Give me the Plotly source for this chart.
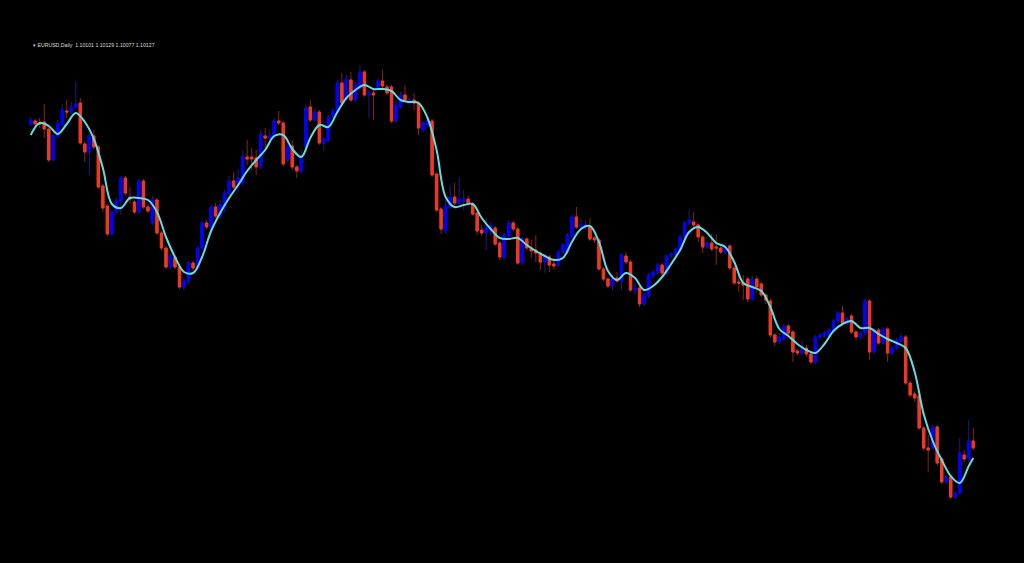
import plotly.graph_objects as go

# ---- data (EURUSD daily) ----
open_ = [
    1.1333, 1.1336, 1.1334, 1.1335, 1.1328, 1.1297, 1.1321, 1.1332, 1.1346, 1.1345,
    1.1350, 1.1354, 1.1313, 1.1305, 1.1321, 1.1310, 1.1271, 1.1251, 1.1223, 1.1245,
    1.1256, 1.1279, 1.1260, 1.1255, 1.1245, 1.1276, 1.1250, 1.1234, 1.1257, 1.1224,
    1.1209, 1.1190, 1.1200, 1.1190, 1.1170, 1.1176, 1.1194, 1.1189, 1.1209, 1.1234,
    1.1230, 1.1250, 1.1241, 1.1249, 1.1264, 1.1276, 1.1272, 1.1274, 1.1300, 1.1300,
    1.1299, 1.1290, 1.1321, 1.1319, 1.1321, 1.1336, 1.1334, 1.1297, 1.1311, 1.1290,
    1.1286, 1.1311, 1.1350, 1.1337, 1.1345, 1.1314, 1.1317, 1.1341, 1.1345, 1.1374,
    1.1358, 1.1377, 1.1357, 1.1369, 1.1385, 1.1362, 1.1364, 1.1370, 1.1376, 1.1370,
    1.1370, 1.1336, 1.1350, 1.1362, 1.1354, 1.1357, 1.1354, 1.1327, 1.1332, 1.1336,
    1.1283, 1.1248, 1.1226, 1.1250, 1.1260, 1.1254, 1.1256, 1.1258, 1.1253, 1.1244,
    1.1227, 1.1224, 1.1228, 1.1229, 1.1214, 1.1200, 1.1221, 1.1234, 1.1228, 1.1194,
    1.1218, 1.1209, 1.1207, 1.1204, 1.1195, 1.1200, 1.1193, 1.1192, 1.1205, 1.1205,
    1.1221, 1.1240, 1.1230, 1.1230, 1.1230, 1.1219, 1.1217, 1.1188, 1.1178, 1.1171,
    1.1179, 1.1176, 1.1201, 1.1195, 1.1167, 1.1169, 1.1153, 1.1161, 1.1181, 1.1185,
    1.1192, 1.1184, 1.1201, 1.1203, 1.1207, 1.1220, 1.1234, 1.1235, 1.1232, 1.1220,
    1.1210, 1.1214, 1.1210, 1.1209, 1.1205, 1.1211, 1.1189, 1.1175, 1.1174, 1.1178,
    1.1158, 1.1178, 1.1173, 1.1162, 1.1156, 1.1122, 1.1115, 1.1118, 1.1131, 1.1125,
    1.1106, 1.1104, 1.1109, 1.1103, 1.1095, 1.1120, 1.1121, 1.1122, 1.1127, 1.1136,
    1.1144, 1.1134, 1.1141, 1.1125, 1.1120, 1.1124, 1.1156, 1.1105, 1.1127, 1.1114,
    1.1128, 1.1104, 1.1109, 1.1116, 1.1120, 1.1074, 1.1063, 1.1061, 1.1029, 1.1009,
    1.1009, 1.1030, 1.0998, 1.0975, 1.0980, 1.0960, 1.0964, 1.1002, 1.0998, 1.1016,
]
high = [
    1.1340, 1.1338, 1.1339, 1.1353, 1.1330, 1.1323, 1.1337, 1.1353, 1.1357, 1.1355,
    1.1375, 1.1359, 1.1316, 1.1323, 1.1327, 1.1312, 1.1273, 1.1253, 1.1247, 1.1259,
    1.1281, 1.1281, 1.1270, 1.1257, 1.1278, 1.1278, 1.1253, 1.1261, 1.1259, 1.1226,
    1.1211, 1.1203, 1.1202, 1.1192, 1.1178, 1.1196, 1.1196, 1.1211, 1.1236, 1.1237,
    1.1252, 1.1254, 1.1257, 1.1267, 1.1281, 1.1285, 1.1287, 1.1307, 1.1317, 1.1309,
    1.1307, 1.1327, 1.1329, 1.1327, 1.1339, 1.1346, 1.1336, 1.1317, 1.1317, 1.1292,
    1.1307, 1.1352, 1.1357, 1.1349, 1.1347, 1.1320, 1.1342, 1.1349, 1.1377, 1.1384,
    1.1382, 1.1385, 1.1375, 1.1392, 1.1387, 1.1367, 1.1367, 1.1379, 1.1387, 1.1372,
    1.1372, 1.1357, 1.1365, 1.1372, 1.1359, 1.1364, 1.1356, 1.1336, 1.1338, 1.1338,
    1.1285, 1.1250, 1.1257, 1.1272, 1.1274, 1.1280, 1.1267, 1.1261, 1.1255, 1.1246,
    1.1232, 1.1239, 1.1235, 1.1231, 1.1216, 1.1224, 1.1236, 1.1236, 1.1230, 1.1220,
    1.1220, 1.1217, 1.1222, 1.1206, 1.1203, 1.1202, 1.1199, 1.1207, 1.1214, 1.1224,
    1.1242, 1.1250, 1.1239, 1.1237, 1.1239, 1.1221, 1.1219, 1.1190, 1.1180, 1.1181,
    1.1185, 1.1204, 1.1205, 1.1197, 1.1175, 1.1171, 1.1167, 1.1184, 1.1187, 1.1194,
    1.1194, 1.1203, 1.1205, 1.1210, 1.1222, 1.1236, 1.1247, 1.1245, 1.1234, 1.1222,
    1.1216, 1.1223, 1.1222, 1.1211, 1.1212, 1.1213, 1.1191, 1.1185, 1.1182, 1.1180,
    1.1181, 1.1181, 1.1175, 1.1164, 1.1158, 1.1124, 1.1124, 1.1133, 1.1133, 1.1127,
    1.1108, 1.1117, 1.1112, 1.1105, 1.1122, 1.1124, 1.1126, 1.1129, 1.1138, 1.1146,
    1.1151, 1.1140, 1.1143, 1.1127, 1.1126, 1.1158, 1.1158, 1.1129, 1.1129, 1.1130,
    1.1130, 1.1111, 1.1119, 1.1124, 1.1122, 1.1076, 1.1066, 1.1063, 1.1031, 1.1022,
    1.1032, 1.1032, 1.1000, 1.0982, 1.0982, 1.0966, 1.1019, 1.1007, 1.1037, 1.1029,
]
low = [
    1.1331, 1.1331, 1.1329, 1.1319, 1.1295, 1.1296, 1.1319, 1.1331, 1.1339, 1.1343,
    1.1349, 1.1312, 1.1295, 1.1282, 1.1308, 1.1268, 1.1245, 1.1221, 1.1221, 1.1243,
    1.1242, 1.1262, 1.1254, 1.1243, 1.1243, 1.1248, 1.1244, 1.1232, 1.1222, 1.1207,
    1.1188, 1.1188, 1.1188, 1.1168, 1.1167, 1.1173, 1.1186, 1.1187, 1.1207, 1.1228,
    1.1228, 1.1239, 1.1239, 1.1245, 1.1262, 1.1268, 1.1265, 1.1271, 1.1292, 1.1287,
    1.1282, 1.1288, 1.1307, 1.1312, 1.1317, 1.1332, 1.1291, 1.1294, 1.1287, 1.1279,
    1.1284, 1.1307, 1.1335, 1.1335, 1.1312, 1.1306, 1.1315, 1.1339, 1.1343, 1.1352,
    1.1356, 1.1355, 1.1355, 1.1367, 1.1360, 1.1339, 1.1337, 1.1368, 1.1369, 1.1362,
    1.1334, 1.1334, 1.1348, 1.1355, 1.1352, 1.1347, 1.1322, 1.1325, 1.1330, 1.1280,
    1.1245, 1.1223, 1.1224, 1.1248, 1.1252, 1.1252, 1.1247, 1.1251, 1.1241, 1.1222,
    1.1221, 1.1207, 1.1221, 1.1211, 1.1197, 1.1198, 1.1219, 1.1226, 1.1192, 1.1192,
    1.1207, 1.1199, 1.1195, 1.1187, 1.1184, 1.1185, 1.1187, 1.1190, 1.1203, 1.1203,
    1.1219, 1.1228, 1.1226, 1.1227, 1.1216, 1.1214, 1.1186, 1.1176, 1.1169, 1.1167,
    1.1174, 1.1167, 1.1193, 1.1165, 1.1162, 1.1150, 1.1151, 1.1159, 1.1178, 1.1183,
    1.1181, 1.1182, 1.1199, 1.1201, 1.1205, 1.1218, 1.1232, 1.1230, 1.1215, 1.1204,
    1.1208, 1.1206, 1.1192, 1.1203, 1.1203, 1.1187, 1.1172, 1.1165, 1.1157, 1.1155,
    1.1156, 1.1165, 1.1160, 1.1153, 1.1119, 1.1111, 1.1113, 1.1116, 1.1122, 1.1095,
    1.1102, 1.1102, 1.1100, 1.1093, 1.1093, 1.1118, 1.1119, 1.1120, 1.1125, 1.1134,
    1.1132, 1.1132, 1.1123, 1.1117, 1.1118, 1.1122, 1.1097, 1.1103, 1.1112, 1.1112,
    1.1095, 1.1102, 1.1107, 1.1114, 1.1072, 1.1060, 1.1055, 1.1027, 1.1006, 1.0985,
    1.1007, 1.0991, 1.0973, 1.0973, 1.0958, 1.0958, 1.0962, 1.0995, 1.0996, 1.1007,
]
close = [
    1.1337, 1.1333, 1.1333, 1.1328, 1.1297, 1.1321, 1.1333, 1.1347, 1.1345, 1.1350,
    1.1353, 1.1314, 1.1305, 1.1321, 1.1310, 1.1270, 1.1249, 1.1223, 1.1245, 1.1256,
    1.1279, 1.1264, 1.1258, 1.1245, 1.1276, 1.1250, 1.1246, 1.1257, 1.1224, 1.1209,
    1.1190, 1.1201, 1.1190, 1.1170, 1.1176, 1.1194, 1.1189, 1.1209, 1.1234, 1.1230,
    1.1250, 1.1241, 1.1252, 1.1264, 1.1276, 1.1270, 1.1279, 1.1300, 1.1298, 1.1298,
    1.1290, 1.1323, 1.1319, 1.1321, 1.1336, 1.1334, 1.1293, 1.1311, 1.1290, 1.1286,
    1.1301, 1.1349, 1.1337, 1.1345, 1.1314, 1.1318, 1.1340, 1.1346, 1.1374, 1.1354,
    1.1378, 1.1357, 1.1372, 1.1385, 1.1362, 1.1364, 1.1362, 1.1376, 1.1371, 1.1364,
    1.1336, 1.1352, 1.1362, 1.1357, 1.1357, 1.1354, 1.1329, 1.1334, 1.1336, 1.1282,
    1.1247, 1.1228, 1.1251, 1.1260, 1.1254, 1.1258, 1.1258, 1.1254, 1.1243, 1.1226,
    1.1224, 1.1230, 1.1231, 1.1213, 1.1200, 1.1222, 1.1234, 1.1228, 1.1194, 1.1218,
    1.1209, 1.1206, 1.1204, 1.1195, 1.1201, 1.1192, 1.1191, 1.1205, 1.1212, 1.1222,
    1.1240, 1.1230, 1.1232, 1.1232, 1.1218, 1.1217, 1.1188, 1.1178, 1.1171, 1.1179,
    1.1176, 1.1202, 1.1195, 1.1167, 1.1169, 1.1153, 1.1162, 1.1182, 1.1185, 1.1192,
    1.1184, 1.1201, 1.1203, 1.1208, 1.1220, 1.1234, 1.1237, 1.1232, 1.1220, 1.1210,
    1.1214, 1.1208, 1.1209, 1.1205, 1.1210, 1.1189, 1.1174, 1.1174, 1.1172, 1.1158,
    1.1178, 1.1170, 1.1162, 1.1157, 1.1122, 1.1115, 1.1120, 1.1130, 1.1124, 1.1105,
    1.1104, 1.1107, 1.1103, 1.1095, 1.1120, 1.1122, 1.1124, 1.1127, 1.1136, 1.1144,
    1.1134, 1.1138, 1.1125, 1.1120, 1.1124, 1.1156, 1.1105, 1.1127, 1.1114, 1.1128,
    1.1104, 1.1109, 1.1117, 1.1120, 1.1074, 1.1062, 1.1059, 1.1029, 1.1009, 1.1007,
    1.1030, 1.0994, 1.0975, 1.0980, 1.0960, 1.0964, 1.1004, 1.0998, 1.1016, 1.1009,
]
bar_index = list(range(len(close)))

# smoothed indicator line (sampled every 2 bars)
line_index = list(range(0, 209, 2)) + [209]
line_values = [
    1.1322, 1.1334, 1.1331, 1.1323, 1.1333, 1.1344, 1.1335, 1.1318, 1.1289, 1.1253,
    1.1249, 1.1259, 1.1259, 1.1257, 1.1245, 1.1220, 1.1200, 1.1185, 1.1184, 1.1200,
    1.1226, 1.1244, 1.1259, 1.1272, 1.1286, 1.1297, 1.1307, 1.1321, 1.1322, 1.1308,
    1.1300, 1.1319, 1.1332, 1.1330, 1.1345, 1.1359, 1.1367, 1.1372, 1.1368, 1.1368,
    1.1366, 1.1357, 1.1355, 1.1354, 1.1339, 1.1307, 1.1260, 1.1250, 1.1252, 1.1253,
    1.1239, 1.1228, 1.1219, 1.1218, 1.1219, 1.1212, 1.1206, 1.1201, 1.1197, 1.1199,
    1.1215, 1.1228, 1.1231, 1.1215, 1.1186, 1.1177, 1.1184, 1.1179, 1.1167, 1.1171,
    1.1180, 1.1193, 1.1207, 1.1225, 1.1230, 1.1224, 1.1214, 1.1210, 1.1195, 1.1174,
    1.1170, 1.1166, 1.1150, 1.1128, 1.1121, 1.1113, 1.1107, 1.1104, 1.1113, 1.1126,
    1.1133, 1.1136, 1.1129, 1.1129, 1.1123, 1.1118, 1.1114, 1.1109, 1.1085, 1.1043,
    1.1016, 1.0997, 1.0981, 1.0974, 1.0991, 1.0999,
]

header_text = "EURUSD,Daily\u00a0\u00a01.10101 1.10129 1.10077 1.10127"

# ---- styles ----
BULL = "#0000ff"
BEAR = "#ee3a22"
BULL_WICK = "#1c1c8a"
BEAR_WICK = "#8a2416"
LINE_COLOR = "#66dbe2"

body_top = [max(o, c) for o, c in zip(open_, close)]
body_bot = [min(o, c) for o, c in zip(open_, close)]

fig = go.Figure()

# wicks (dim colours), full high-low range
fig.add_trace(go.Candlestick(
    x=bar_index, open=open_, high=high, low=low, close=close,
    increasing=dict(line=dict(color=BULL_WICK, width=1), fillcolor=BULL_WICK),
    decreasing=dict(line=dict(color=BEAR_WICK, width=1), fillcolor=BEAR_WICK),
    whiskerwidth=0, showlegend=False, hoverinfo="skip",
))
# bright bodies
fig.add_trace(go.Candlestick(
    x=bar_index, open=open_, high=body_top, low=body_bot, close=close,
    increasing=dict(line=dict(color=BULL, width=1), fillcolor=BULL),
    decreasing=dict(line=dict(color=BEAR, width=1), fillcolor=BEAR),
    whiskerwidth=0, showlegend=False, hoverinfo="skip",
))
# smoothed line
fig.add_trace(go.Scatter(
    x=line_index, y=line_values, mode="lines",
    line=dict(color=LINE_COLOR, width=2, shape="spline", smoothing=1.0),
    showlegend=False, hoverinfo="skip",
))

fig.add_annotation(
    xref="paper", yref="paper", x=31 / 1024, y=1 - 45.5 / 563,
    xanchor="left", yanchor="middle", showarrow=False,
    text="\u25BE\u00a0" + header_text,
    font=dict(family="Liberation Sans, Arial", size=5.2, color="#dcdcdc"),
)

fig.update_layout(
    width=1024, height=563,
    margin=dict(l=0, r=0, t=0, b=0),
    paper_bgcolor="#000000", plot_bgcolor="#000000",
    boxgap=0.25,
    xaxis=dict(range=[-30.7 / 4.51, (1024 - 30.7) / 4.51], visible=False,
               showgrid=False, zeroline=False, rangeslider=dict(visible=False)),
    yaxis=dict(range=[1.1457 - 0.0563, 1.1457], visible=False,
               showgrid=False, zeroline=False),
    hovermode=False,
)

fig.write_html(
    "out.html",
    config=dict(displayModeBar=False, staticPlot=True),
    post_script="document.body.style.margin='0';document.body.style.overflow='hidden';",
)
